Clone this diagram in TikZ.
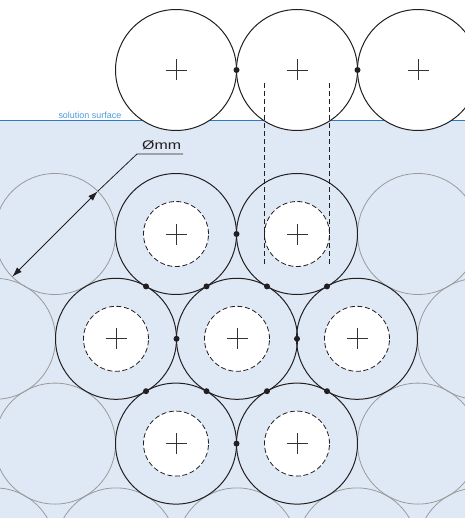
\documentclass[tikz,border=0pt]{standalone}
\usepackage{fontspec}
\setmainfont{Liberation Sans}
\usetikzlibrary{arrows.meta}
\definecolor{water}{HTML}{DFE9F6}
\definecolor{surf}{HTML}{2B7CC4}
\definecolor{surftext}{HTML}{4C9BD8}
\definecolor{ghostc}{HTML}{9A9A9A}
\definecolor{ink}{HTML}{231F20}
\definecolor{crossc}{HTML}{333333}
\tikzset{
  ring/.style={circle, draw=ink, line width=1bp, minimum size=121bp, inner sep=0pt, outer sep=0pt},
  ghost/.style={circle, draw=ghostc, line width=0.8bp, minimum size=121bp, inner sep=0pt, outer sep=0pt},
  topring/.style={ring, fill=white},
  core/.style={circle, draw=ink, line width=0.8bp, dash pattern=on 5bp off 2.6bp, fill=white, minimum size=65bp, inner sep=0pt, outer sep=0pt},
  dotn/.style={circle, fill=ink, minimum size=6bp, inner sep=0pt, outer sep=0pt},
  crossline/.style={draw=crossc, line width=0.8bp},
  projline/.style={draw=ink, line width=0.8bp, dash pattern=on 5bp off 3bp},
  dimline/.style={draw=ink, line width=0.8bp},
}
\begin{document}
\begin{tikzpicture}[x=1bp,y=-1bp]
\useasboundingbox (0,0) rectangle (465,518);
\clip (0,0) rectangle (465,518);
% water
\fill[water] (0,120.5) rectangle (465,518);
\coordinate (sl) at (0,120.5);
\coordinate (sr) at (465,120.5);
\draw[surf, line width=1.2bp] (sl) -- (sr);
\node[anchor=base east, text=surftext, font=\fontsize{9}{11}\selectfont, inner sep=0pt] (surflabel) at (121.5,118.3) {solution surface};
% grey background circles
\node[ghost] (gA) at (55,234) {};
\node[ghost] (gB) at (418,234) {};
\node[ghost] (gC) at (-5,338.8) {};
\node[ghost] (gD) at (478,338.8) {};
\node[ghost] (gE) at (55,443.6) {};
\node[ghost] (gF) at (418,443.6) {};
\node[ghost] (gG) at (-5,548.4) {};
\node[ghost] (gH) at (116,548.4) {};
\node[ghost] (gI) at (237,548.4) {};
\node[ghost] (gJ) at (357,548.4) {};
\node[ghost] (gK) at (478,548.4) {};
% black rings in solution
\node[ring] (r1) at (176,234) {};
\node[ring] (r2) at (297,234) {};
\node[ring] (r3) at (116,338.8) {};
\node[ring] (r4) at (237,338.8) {};
\node[ring] (r5) at (357,338.8) {};
\node[ring] (r6) at (176,443.6) {};
\node[ring] (r7) at (297,443.6) {};
% white cores
\foreach \n in {r1,r2,r3,r4,r5,r6,r7}{
  \node[core] (c\n) at (\n) {};
  \draw[crossline] (\n) ++(-10.5,0) -- ++(21,0);
  \draw[crossline] (\n) ++(0,-10.5) -- ++(0,21);
}
% contact dots
\node[dotn] (d12) at (236.5,234) {};
\node[dotn] (d13) at (146,286.4) {};
\node[dotn] (d14) at (206.5,286.4) {};
\node[dotn] (d24) at (267,286.4) {};
\node[dotn] (d25) at (327,286.4) {};
\node[dotn] (d34) at (176.5,338.8) {};
\node[dotn] (d45) at (297,338.8) {};
\node[dotn] (d36) at (146,391.2) {};
\node[dotn] (d46) at (206.5,391.2) {};
\node[dotn] (d47) at (267,391.2) {};
\node[dotn] (d57) at (327,391.2) {};
\node[dotn] (d67) at (236.5,443.6) {};
% top row on the surface
\node[topring] (t1) at (176,70) {};
\node[topring] (t2) at (297,70) {};
\node[topring] (t3) at (418,70) {};
\foreach \n in {t1,t2,t3}{
  \draw[crossline] (\n) ++(-10.5,0) -- ++(21,0);
  \draw[crossline] (\n) ++(0,-10.5) -- ++(0,21);
}
\node[dotn] (dt12) at (236.5,70) {};
\node[dotn] (dt23) at (357.5,70) {};
% projection lines
\coordinate (pLt) at (264.5,83);
\coordinate (pLb) at (264.5,265);
\coordinate (pRt) at (329.8,83);
\coordinate (pRb) at (329.8,265);
\draw[projline] (pLt) -- (pLb);
\draw[projline] (pRt) -- (pRb);
% diameter dimension
\draw[dimline, {Latex[length=10bp,width=6.5bp]}-{Latex[length=10bp,width=6.5bp]}] (gA.225) -- (gA.45);
\node[anchor=base west, text=ink, font=\fontsize{12.5}{15}\selectfont, inner sep=0pt] (dia) at (142,149.5) {\scalebox{1.28}[1]{Ømm}};
\coordinate (ul) at (137,154);
\coordinate (ur) at (183,154);
\draw[dimline] (gA.45) -- (ul) -- (ur);
\end{tikzpicture}
\end{document}
